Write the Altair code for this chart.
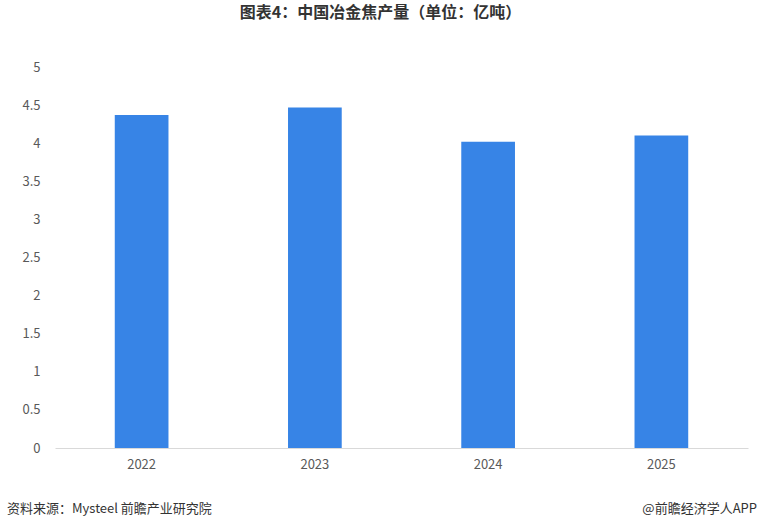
import altair as alt
import pandas as pd

years = ["2022", "2023", "2024", "2025"]
values = [4.37, 4.47, 4.02, 4.10]
y_ticks = [0, 0.5, 1, 1.5, 2, 2.5, 3, 3.5, 4, 4.5, 5]

title_text = "图表4：中国冶金焦产量（单位：亿吨）"
source_text = "资料来源：Mysteel  前瞻产业研究院"
brand_text = "@前瞻经济学人APP"

df = pd.DataFrame({"year": years, "value": values})

FONT = "Noto Sans CJK SC"

bars = alt.Chart(df).mark_bar(color="#3784E6").encode(
    x=alt.X("year:N", sort=years, title=None,
            scale=alt.Scale(paddingInner=0.69, paddingOuter=0.345),
            axis=alt.Axis(labelAngle=0, labelFontSize=13, labelColor="#595959",
                          labelFont=FONT, domainColor="#d9d9d9", ticks=False,
                          labelPadding=10, grid=False)),
    y=alt.Y("value:Q", title=None,
            scale=alt.Scale(domain=[0, 5], nice=False),
            axis=alt.Axis(values=y_ticks, labelFontSize=13, labelColor="#595959",
                          labelFont=FONT, domain=False, ticks=False, grid=False,
                          labelPadding=15, labelExpr="format(datum.value, '~g')")),
)

src = alt.Chart(pd.DataFrame({"t": [source_text]})).mark_text(
    align="left", baseline="middle", fontSize=13, font=FONT, color="#333333").encode(
    text="t:N", x=alt.value(-48), y=alt.value(442))
brand = alt.Chart(pd.DataFrame({"t": [brand_text]})).mark_text(
    align="right", baseline="middle", fontSize=13, font=FONT, color="#333333").encode(
    text="t:N", x=alt.value(702), y=alt.value(442))

chart = alt.layer(bars, src, brand).properties(
    width=693, height=381,
    background="white",
    title=alt.TitleParams(title_text, anchor="middle", fontSize=16, font=FONT,
                          fontWeight="bold", color="#333333", offset=40, dx=-21),
    autosize=alt.AutoSizeParams(type="none"),
    padding={"left": 55, "top": 67, "right": 12, "bottom": 83},
).configure_view(strokeWidth=0, stroke=None)

chart.save("out.html", embed_options={"renderer": "svg", "actions": False})
